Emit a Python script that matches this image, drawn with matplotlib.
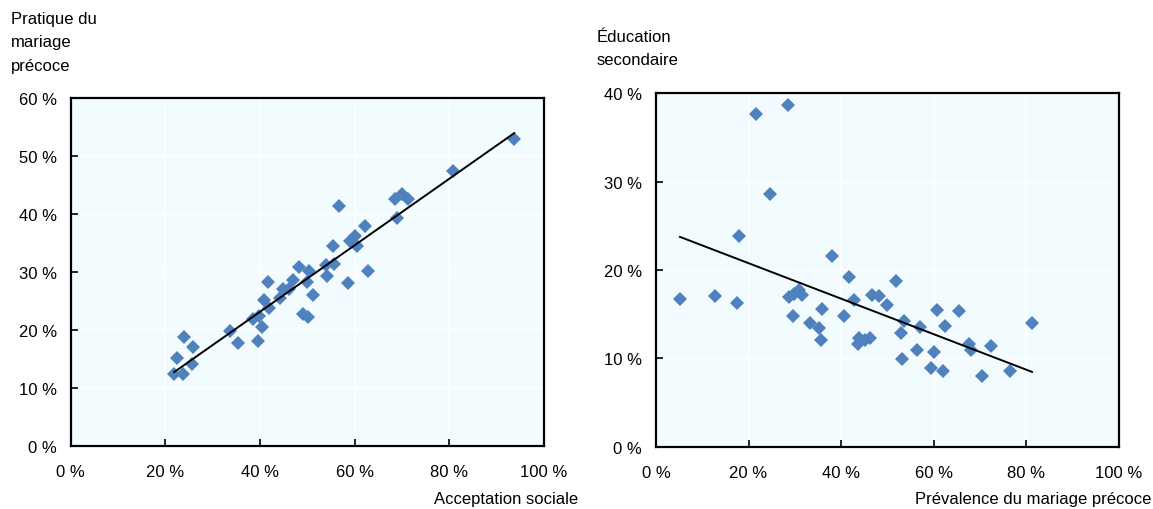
"""Early marriage: social acceptance vs practice, and prevalence vs secondary education."""

import matplotlib.pyplot as plt
import numpy as np
from matplotlib.ticker import FuncFormatter

plt.rcParams["font.family"] = ["Liberation Sans Narrow", "Liberation Sans", "DejaVu Sans"]
plt.rcParams["font.size"] = 12

# Left panel: social acceptance (x) vs early-marriage practice (y), in %
accept = [21.9, 23.8, 22.5, 25.6, 24.0, 25.9, 33.7, 35.4, 39.5, 38.6, 39.7,
          40.4, 40.9, 42.0, 41.6, 44.2, 44.8, 46.2, 47.0, 48.3, 50.4, 49.9,
          51.1, 49.0, 50.2, 53.9, 54.1, 55.6, 55.4, 56.6, 58.5, 59.0, 60.1,
          60.4, 62.2, 62.9, 68.5, 69.9, 71.3, 69.0, 80.7, 93.7]
practice = [12.5, 12.5, 15.3, 14.2, 18.9, 17.1, 19.8, 17.8, 18.1, 21.9, 22.5,
            20.5, 25.3, 23.8, 28.3, 25.5, 27.1, 27.1, 28.6, 30.9, 30.3, 28.3,
            26.1, 22.8, 22.3, 31.3, 29.4, 31.4, 34.5, 41.5, 28.2, 35.4, 36.3,
            34.5, 38.0, 30.3, 42.6, 43.5, 42.6, 39.3, 47.5, 52.9]

# Right panel: early-marriage prevalence (x) vs secondary education (y), in %
prevalence = [5.2, 12.7, 17.6, 17.9, 21.6, 24.6, 28.5, 28.8, 29.8, 31.0, 31.5,
              29.5, 33.3, 35.2, 35.6, 35.9, 38.1, 40.6, 41.6, 42.7, 43.8, 43.6,
              45.2, 46.2, 46.7, 48.2, 49.8, 51.9, 53.6, 52.9, 53.2, 57.0, 56.3,
              59.3, 60.0, 60.6, 61.9, 62.4, 65.5, 67.6, 68.1, 70.4, 72.4, 76.5,
              81.2]
education = [16.7, 17.1, 16.3, 23.9, 37.7, 28.6, 38.7, 17.0, 17.3, 17.7, 17.2,
             14.8, 14.0, 13.4, 12.1, 15.6, 21.6, 14.8, 19.2, 16.6, 12.3, 11.6,
             12.1, 12.3, 17.2, 17.1, 16.0, 18.8, 14.2, 12.9, 9.9, 13.5, 10.9,
             8.9, 10.7, 15.5, 8.6, 13.7, 15.4, 11.6, 10.9, 8.0, 11.4, 8.6,
             14.0]

BG = "#F2FCFE"
BLUE = "#4E81BD"
W, H = 1153, 510


def pct(v, _):
    return f"{v:.0f} %"


def panel(ax, x, y, ymax, ystep, xlabel, xlab_right, ylabel, ylab_x, ylab_y):
    ax.set_facecolor(BG)
    ax.grid(True, color="white", linewidth=1.2)
    ax.set_axisbelow(True)
    ax.plot(x, y, "D", color=BLUE, markersize=7.3, markeredgewidth=0, zorder=3)
    # least-squares trend line over the data range
    xs = np.array(x)
    coef = np.polyfit(xs, y, 1)
    xl = np.array([xs.min(), xs.max()])
    ax.plot(xl, np.polyval(coef, xl), color="black", linewidth=1.4, zorder=4)
    ax.set_xlim(0, 100)
    ax.set_ylim(0, ymax)
    ax.set_xticks(np.arange(0, 101, 20))
    ax.set_yticks(np.arange(0, ymax + 0.1, ystep))
    ax.xaxis.set_major_formatter(FuncFormatter(pct))
    ax.yaxis.set_major_formatter(FuncFormatter(pct))
    ax.tick_params(direction="in", length=5, width=1.2, colors="black", pad=10)
    ax.tick_params(axis="x", pad=13)
    for s in ax.spines.values():
        s.set_linewidth(1.6)
    fig.text(ylab_x / W, 1 - ylab_y / H, ylabel, ha="left", va="top", linespacing=1.7)
    fig.text(xlab_right / W, 1 - 500 / H, xlabel, ha="right", va="center")


fig = plt.figure(figsize=(W / 100, H / 100), dpi=100)
ax1 = fig.add_axes([70.6 / W, 1 - 447.3 / H, (544 - 70.6) / W, (447.3 - 99.3) / H])
ax2 = fig.add_axes([655.9 / W, 1 - 447.7 / H, (1119 - 655.9) / W, (447.7 - 94.3) / H])

panel(ax1, accept, practice, 60, 10, "Acceptation sociale", 578,
      "Pratique du\nmariage\nprécoce", 11, 12)
panel(ax2, prevalence, education, 40, 10, "Prévalence du mariage précoce", 1151,
      "Éducation\nsecondaire", 597, 30)

fig.savefig("out.png", dpi=100, facecolor="white")
